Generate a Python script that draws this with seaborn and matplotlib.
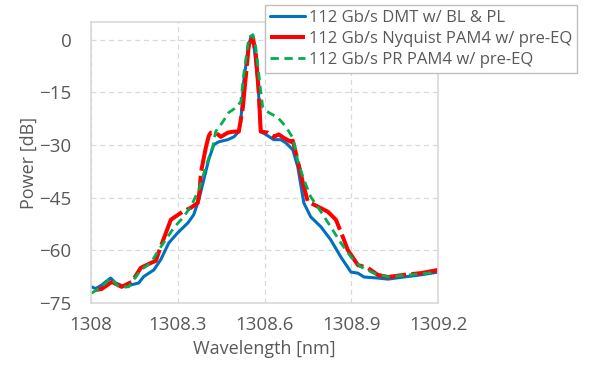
import matplotlib
matplotlib.use("Agg")
import matplotlib.pyplot as plt
import seaborn as sns

# wavelength [nm] and power [dB]
dmt_wl = [1308.002, 1308.016, 1308.037, 1308.050, 1308.068, 1308.085, 1308.106, 1308.120,
          1308.141, 1308.165, 1308.182, 1308.217, 1308.241, 1308.269, 1308.300, 1308.335,
          1308.355, 1308.373, 1308.390, 1308.407, 1308.425, 1308.442, 1308.473, 1308.494,
          1308.511, 1308.518, 1308.528, 1308.542, 1308.553, 1308.563, 1308.577, 1308.584,
          1308.587, 1308.604, 1308.632, 1308.656, 1308.674, 1308.698, 1308.715, 1308.736,
          1308.760, 1308.795, 1308.829, 1308.864, 1308.899, 1308.923, 1308.944, 1308.992,
          1309.027, 1309.082, 1309.140, 1309.200]
dmt_db = [-70.4, -70.9, -69.9, -69.0, -67.9, -69.3, -70.0, -70.4,
          -69.8, -69.3, -67.5, -65.6, -62.7, -57.9, -55.0, -52.2,
          -49.9, -45.6, -39.9, -34.2, -29.9, -29.1, -28.5, -27.7,
          -26.2, -23.4, -12.0, -3.4, 0.9, -1.4, -12.0, -21.4,
          -26.2, -27.0, -28.5, -28.5, -29.4, -31.4, -36.2, -46.5,
          -50.5, -53.3, -57.0, -61.9, -66.2, -66.5, -67.6, -67.9,
          -68.2, -67.6, -67.0, -66.2]

nyq_wl = [1308.016, 1308.037, 1308.072, 1308.106, 1308.141, 1308.172, 1308.207, 1308.224,
          1308.241, 1308.276, 1308.317, 1308.345, 1308.369, 1308.376, 1308.380, 1308.397,
          1308.407, 1308.414, 1308.431, 1308.449, 1308.473, 1308.494, 1308.511, 1308.525,
          1308.535, 1308.546, 1308.560, 1308.570, 1308.580, 1308.587, 1308.611, 1308.632,
          1308.649, 1308.667, 1308.691, 1308.698, 1308.712, 1308.736, 1308.750, 1308.771,
          1308.819, 1308.847, 1308.871, 1308.888, 1308.923, 1308.957, 1308.992, 1309.027,
          1309.082, 1309.140, 1309.200]
nyq_db = [-71.3, -71.0, -69.0, -70.4, -69.0, -65.0, -63.6, -63.0,
          -59.0, -51.3, -49.0, -47.9, -46.5, -42.8, -37.9, -30.8,
          -27.5, -26.5, -26.5, -27.7, -26.5, -26.2, -26.2, -19.4,
          -10.8, -1.4, 0.6, -4.3, -14.8, -26.2, -26.5, -27.7,
          -27.0, -28.0, -29.1, -28.8, -33.5, -41.9, -46.2, -47.0,
          -49.0, -51.3, -56.2, -59.9, -64.2, -65.0, -67.0, -67.6,
          -67.0, -66.5, -65.6]

pr_wl = [1308.002, 1308.037, 1308.068, 1308.096, 1308.130, 1308.172, 1308.207, 1308.234,
         1308.265, 1308.286, 1308.317, 1308.345, 1308.373, 1308.397, 1308.421, 1308.431,
         1308.456, 1308.476, 1308.501, 1308.518, 1308.528, 1308.546, 1308.560, 1308.570,
         1308.587, 1308.594, 1308.615, 1308.646, 1308.674, 1308.698, 1308.715, 1308.736,
         1308.760, 1308.795, 1308.829, 1308.864, 1308.899, 1308.933, 1308.978, 1309.027,
         1309.100, 1309.200]
pr_db = [-72.2, -70.4, -67.9, -70.4, -70.4, -65.6, -63.6, -59.9,
         -56.2, -53.6, -50.8, -47.6, -42.8, -36.2, -30.5, -26.2,
         -23.4, -20.8, -19.4, -17.7, -10.0, 0.6, 1.4, -2.3,
         -14.8, -19.4, -20.8, -22.2, -24.8, -28.0, -34.5, -39.9,
         -44.8, -49.0, -53.3, -57.9, -61.9, -64.7, -66.5, -67.6,
         -67.0, -66.2]

series_labels = ["112 Gb/s DMT w/ BL & PL",
                 "112 Gb/s Nyquist PAM4 w/ pre-EQ",
                 "112 Gb/s PR PAM4 w/ pre-EQ"]
x_ticks = [1308, 1308.3, 1308.6, 1308.9, 1309.2]
x_tick_labels = ["1308", "1308.3", "1308.6", "1308.9", "1309.2"]
y_ticks = [-75, -60, -45, -30, -15, 0]

sns.set_theme(style="white")
plt.rcParams["font.family"] = ["Open Sans", "DejaVu Sans"]

text_grey = "#595959"
frame_grey = "#d9d9d9"

fig = plt.figure(figsize=(5.92, 3.77), dpi=100)
ax = fig.add_axes([91 / 592, 1 - 303 / 377, 347 / 592, 281 / 377])

sns.lineplot(x=dmt_wl, y=dmt_db, ax=ax, color="#0070C0", linewidth=2.2,
             sort=False, estimator=None, label=series_labels[0])
sns.lineplot(x=nyq_wl, y=nyq_db, ax=ax, color="#FF0000", linewidth=2.9,
             sort=False, estimator=None, label=series_labels[1],
             linestyle=(0, (10, 1.3)))
sns.lineplot(x=pr_wl, y=pr_db, ax=ax, color="#00B050", linewidth=2.0,
             sort=False, estimator=None, label=series_labels[2],
             linestyle=(0, (3, 2)))

ax.set_xlim(1308, 1309.2)
ax.set_ylim(-75, 5)
ax.set_xticks(x_ticks)
ax.set_xticklabels(x_tick_labels)
ax.set_yticks(y_ticks)
ax.grid(True, color=frame_grey, linestyle=(0, (4, 3)), linewidth=0.9)
ax.tick_params(length=0, labelsize=13.5, colors=text_grey)
ax.tick_params(axis="y", pad=14)
ax.tick_params(axis="x", pad=9)
for spine in ax.spines.values():
    spine.set_color(frame_grey)
    spine.set_linewidth(1.2)

ax.set_xlabel("Wavelength [nm]", fontsize=13, color=text_grey, labelpad=5)
ax.set_ylabel("Power [dB]", fontsize=13, color=text_grey, labelpad=1)

handles, labels = ax.get_legend_handles_labels()
leg = ax.legend(handles, labels, loc="upper left",
                bbox_to_anchor=(265 / 592, 1 - 5 / 377),
                bbox_transform=fig.transFigure, borderaxespad=0,
                fontsize=12, frameon=True, fancybox=False, framealpha=1,
                edgecolor="#bfbfbf", handlelength=2.1, handletextpad=0.25,
                labelspacing=0.3, borderpad=0.3)
for t in leg.get_texts():
    t.set_color(text_grey)

fig.savefig("out.png", dpi=100)
